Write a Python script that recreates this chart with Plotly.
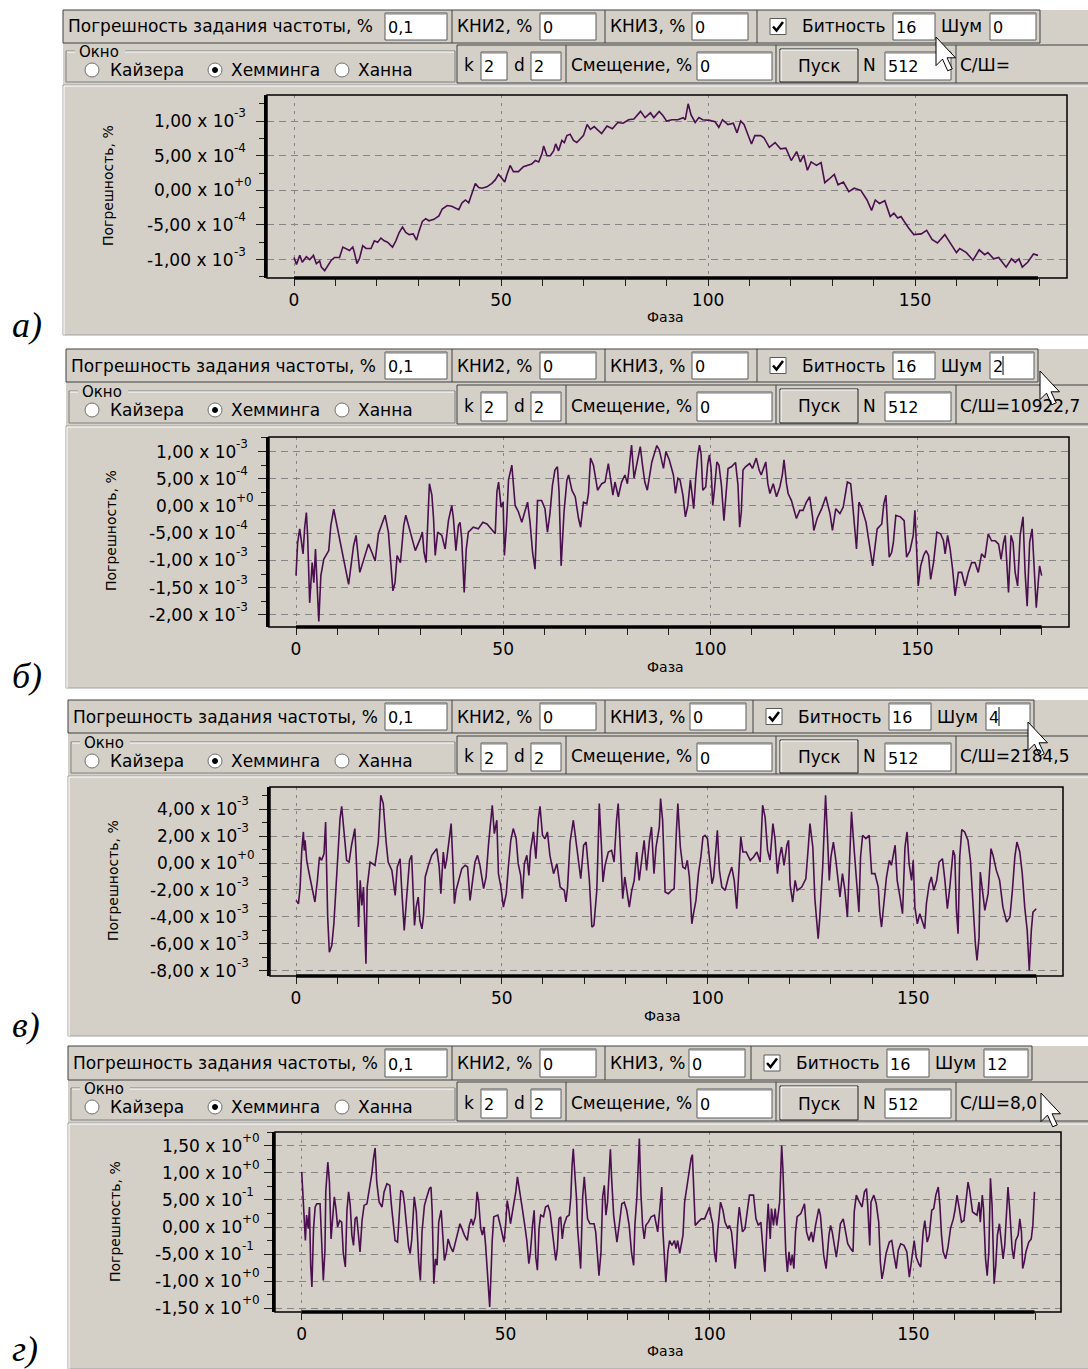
import plotly.graph_objects as go

# ---------------------------------------------------------------------------
# Frequency-setting error (%) versus phase (deg) for four noise levels
# (Шум = 0, 2, 4, 12).  Panels а-в are stored in units of 1e-3 %, panel г in %.
# ---------------------------------------------------------------------------
phase_a = [0, 0.6, 1.4, 2.0, 3.0, 3.8, 4.7, 5.4, 6.2, 6.6,
           7.4, 8.2, 9.0, 9.8, 11.0, 11.8, 12.6, 13.4, 14.2, 14.6,
           15.2, 15.8, 16.6, 17.4, 18.6, 19.4, 20.2, 21.0, 21.8, 22.6,
           23.8, 24.6, 25.4, 26.2, 27.0, 27.8, 28.8, 29.6, 30.2, 31.0,
           31.8, 32.6, 33.8, 35.0, 35.8, 37.0, 38.1, 39.0, 39.8, 40.6,
           41.4, 42.2, 43.0, 43.8, 44.6, 45.4, 46.6, 47.8, 48.6, 49.4,
           50.0, 50.9, 51.4, 52.2, 53.0, 54.2, 55.4, 56.2, 57.4, 58.3,
           59.1, 59.9, 60.3, 61.1, 61.9, 62.7, 63.2, 63.9, 64.7, 65.3,
           65.9, 66.7, 67.5, 68.3,
           69.9, 70.8, 71.6, 72.5, 74.3, 75.6, 76.9, 78.2, 79.5, 80.8,
           82.1, 83.7, 84.8, 86.1, 86.9, 88.2, 89.1, 90.0, 91.3, 92.7,
           94.0, 94.5, 95.2, 95.9, 96.9, 97.8, 98.7, 100.4, 101.7, 102.6,
           103.5, 104.8, 106.1, 107.0, 107.9, 108.7, 110.5, 111.3, 112.7, 113.5,
           114.8, 116.2, 117.5, 118.8, 120.1, 121.4, 122.3, 123.1, 124.0, 124.9,
           126.2, 127.3, 128.2, 129.2, 130.5, 131.4, 132.7, 134.0, 135.3, 136.9,
           138.4, 139.5, 140.4, 141.4, 142.7, 144.0, 144.9, 145.8, 146.6, 148.4,
           149.7, 151.5, 152.8, 154.1, 155.4, 157.2, 158.5, 160.0, 160.8, 162.4,
           164.0, 165.5, 166.8, 167.6, 169.0, 170.2, 172.0, 173.3, 174.2, 175.1,
           175.9, 177.2, 178.6, 179.7]
err_a = [-0.97, -1.07, -0.94, -1.04, -0.96, -1.00, -0.94, -1.06, -1.02, -1.11,
         -1.16, -1.09, -1.01, -0.97, -0.97, -0.82, -0.85, -0.87, -0.82, -0.90,
         -1.06, -0.99, -0.80, -0.84, -0.84, -0.73, -0.75, -0.69, -0.73, -0.75,
         -0.82, -0.73, -0.61, -0.53, -0.61, -0.64, -0.63, -0.72, -0.59, -0.45,
         -0.41, -0.44, -0.42, -0.37, -0.27, -0.22, -0.23, -0.26, -0.28, -0.18,
         -0.14, -0.18, -0.04, 0.10, 0.04, 0.03, 0.05, 0.10, 0.15, 0.23,
         0.19, 0.12, 0.22, 0.36, 0.27, 0.27, 0.34, 0.36, 0.38, 0.43,
         0.41, 0.53, 0.64, 0.50, 0.50, 0.57, 0.67, 0.57, 0.72, 0.69,
         0.79, 0.81, 0.72, 0.69,
         0.79, 0.95, 0.88, 0.92, 0.82, 0.93, 0.89, 0.98, 0.97, 1.02,
         1.03, 1.14, 1.05, 1.12, 1.05, 1.14, 1.08, 1.00, 1.02, 1.02,
         1.05, 1.02, 1.25, 1.09, 0.98, 1.05, 1.02, 1.01, 0.99, 0.91,
         1.02, 0.95, 0.97, 0.83, 1.00, 0.95, 0.67, 0.79, 0.79, 0.76,
         0.62, 0.69, 0.60, 0.61, 0.43, 0.56, 0.41, 0.51, 0.29, 0.41,
         0.36, 0.40, 0.11, 0.16, 0.23, 0.08, 0.12, -0.02, 0.03, 0.00,
         -0.14, -0.29, -0.14, -0.19, -0.15, -0.38, -0.33, -0.40, -0.38, -0.54,
         -0.64, -0.63, -0.58, -0.71, -0.76, -0.64, -0.77, -0.90, -0.84, -0.90,
         -1.01, -0.86, -0.93, -0.90, -0.99, -0.97, -1.11, -0.99, -1.04, -0.99,
         -1.11, -1.04, -0.92, -0.94]

phase_b = [0, 0.4, 0.9, 1.2, 1.7, 2.1, 2.5, 2.8, 3.3, 3.9,
           4.3, 4.7, 5.2, 5.5, 6.0, 6.7, 7.9, 8.4, 9.1, 9.9,
           11.1, 12.7, 13.9, 14.5, 15.4, 16.3, 17.5, 18.3, 19.1, 19.9,
           21.5, 22.3, 23.4, 23.9, 24.4, 25.2, 26.0, 26.5, 27.2, 28.8,
           30.0, 30.5, 30.9, 31.4, 32.2, 32.8, 33.2, 33.6, 34.2, 35.2,
           36.0, 36.8, 37.6, 38.0, 38.6, 39.2, 39.6, 40.0, 40.6, 41.1,
           41.6, 42.8, 44.0, 45.1, 46.1, 47.3, 48.1, 48.5, 48.9, 49.5,
           50.0, 50.3, 50.8, 51.3, 52.1, 52.9, 53.7, 54.5, 55.3, 55.9,
           56.5, 57.1, 57.7, 58.3, 59.3, 60.1, 60.7, 61.3, 61.9, 62.5,
           63.1, 63.5, 64.0, 64.7, 65.4, 65.8, 66.6, 67.4, 68.2, 68.7,
           69.4, 70.2, 70.6, 71.1, 71.8, 72.8, 73.8, 74.6, 75.4, 76.5,
           77.0, 77.8, 78.6, 79.4, 80.0, 80.5, 81.0, 81.6, 82.3, 83.1,
           83.7, 84.2, 84.8, 85.9, 87.1, 87.7, 88.7, 89.3, 90.1, 91.1,
           91.6, 92.2, 92.7, 93.4, 94.0, 94.6, 95.2, 95.6, 96.0, 96.5,
           97.0, 97.4, 97.8, 98.2, 98.9, 99.4, 99.8, 100.2, 100.6, 101.0,
           101.6, 102.1, 102.7, 103.3, 103.9, 104.3, 105.1, 106.1, 106.7, 107.1,
           107.5, 107.9, 108.5, 109.5, 110.2, 111.1, 111.8, 112.3, 113.4, 113.9,
           114.4, 115.2, 116.0, 116.8, 117.4, 117.8, 118.4, 118.8, 119.6, 120.8,
           121.6, 122.4, 123.2, 124.0, 124.7, 125.0, 125.8, 126.9, 127.9, 128.9,
           129.5, 130.3, 131.3, 132.1, 133.1, 133.9, 134.4, 134.9, 135.3, 135.9,
           136.5, 137.6, 138.5, 139.2, 139.8, 140.3, 141.4, 141.9, 142.4, 142.7,
           143.2, 143.8, 144.2, 144.8, 145.9, 146.8, 147.4, 148.2, 149.0, 149.4,
           149.8, 150.2, 150.8, 151.5, 152.1, 152.7, 153.2, 153.9, 154.7, 155.6,
           156.3, 156.7, 157.3, 157.9, 158.5, 159.1, 159.9, 160.7, 161.5, 162.3,
           163.1, 163.9, 164.7, 165.5, 166.3, 167.1, 167.9, 168.8, 169.6, 170.2,
           170.8, 171.2, 172.0, 172.6, 173.1, 173.6, 174.2, 174.8, 175.5, 176.0,
           176.5, 177.1, 177.7, 178.2, 178.7, 179.3, 179.5, 180.0]
err_b = [-1.28, -0.67, -0.42, -0.64, -0.88, -0.39, -0.12, -0.54, -1.78, -1.04,
         -1.41, -0.79, -1.78, -2.12, -1.28, -0.98, -0.82, -0.36, -0.06, -0.36,
         -0.85, -1.44, -0.73, -0.54, -1.22, -0.98, -0.70, -0.85, -1.01, -0.51,
         -0.17, -0.48, -1.56, -1.41, -0.91, -1.04, -0.36, -0.17, -0.36, -0.82,
         -0.60, -0.48, -0.85, -1.04, 0.41, 0.20, -0.23, -0.91, -0.48, -0.54,
         -0.79, -0.27, 0.01, -0.23, -0.82, -0.36, -0.30, -0.60, -1.59, -0.79,
         -0.48, -0.39, -0.42, -0.30, -0.33, -0.45, -0.51, 0.26, 0.44, -0.02,
         0.07, -0.91, -0.36, 0.48, 0.75, 0.01, -0.11, -0.30, -0.11, 0.07,
         -0.30, -0.85, -1.16, 0.10, 0.10, -0.05, -0.48, -0.14, 0.38, 0.66,
         0.72, 0.26, -1.10, -0.11, 0.48, 0.57, 0.29, 0.17, -0.23, -0.39,
         0.07, 0.04, 0.23, 0.88, 0.75, 0.29, 0.41, 0.44, 0.78, 0.20,
         0.44, 0.17, 0.44, 0.57, 0.41, 0.81, 1.12, 0.51, 0.81, 1.09,
         0.72, 0.44, 0.29, 0.81, 1.11, 1.03, 0.69, 1.00, 0.85, 0.57,
         0.23, 0.51, 0.48, 0.20, -0.20, 0.01, 0.48, 0.23, -0.05, 0.51,
         0.94, 1.12, 0.94, 0.29, 0.35, 0.78, 0.94, 0.69, 0.01, 0.29,
         0.81, 0.75, 0.38, -0.27, 0.41, 0.69, 0.72, 0.80, 0.38, -0.39,
         -0.11, 0.66, 0.72, 0.78, 0.69, 0.88, 0.66, 0.57, 0.81, 0.41,
         0.23, 0.41, 0.17, 0.35, 0.57, 0.85, 0.41, 0.23, 0.10, -0.23,
         -0.08, -0.08, 0.07, 0.17, -0.20, -0.45, -0.23, -0.05, 0.17, -0.14,
         -0.45, -0.05, -0.14, -0.02, 0.44, 0.41, 0.01, -0.51, -0.79, 0.07,
         -0.02, -0.30, -0.73, -1.10, -0.73, -0.42, -0.33, 0.04, 0.20, -0.23,
         -0.94, -0.85, -0.67, -0.17, -0.20, -0.27, -0.94, -0.82, -0.54, -0.08,
         -0.98, -1.47, -1.10, -0.91, -0.82, -0.91, -1.35, -1.04, -0.48, -0.51,
         -0.64, -0.88, -0.54, -0.79, -1.16, -1.65, -1.22, -1.22, -1.47, -1.22,
         -1.04, -1.04, -1.22, -0.88, -0.95, -0.51, -0.64, -0.64, -0.70, -0.98,
         -0.67, -0.54, -1.59, -0.54, -0.67, -1.22, -1.47, -0.54, -0.20, -1.22,
         -1.84, -0.67, -0.42, -1.28, -1.87, -1.28, -1.10, -1.28]

phase_c = [0, 0.6, 1.0, 1.4, 1.8, 2.0, 2.2, 2.6, 3.2, 4.1,
           4.6, 5.2, 5.7, 6.2, 6.8, 7.2, 7.7, 8.1, 8.7, 9.2,
           9.7, 10.3, 10.7, 11.1, 11.7, 12.3, 12.9, 13.5, 14.3, 14.7,
           15.2, 15.6, 16.0, 16.4, 16.8, 17.0, 17.3, 18.0, 19.2, 20.0,
           20.6, 21.2, 21.9, 22.4, 23.3, 24.1, 24.6, 25.3, 25.7, 26.1,
           26.3, 26.9, 27.6, 28.1, 28.5, 28.8, 29.2, 29.7, 30.1, 30.6,
           31.0, 31.4, 32.2, 33.0, 34.2, 34.8, 35.2, 35.8, 36.2, 36.6,
           37.3, 37.7, 38.1, 38.5, 38.9, 39.5, 40.3, 41.1, 41.7, 42.3,
           42.9, 43.5, 44.1, 44.7, 45.6, 46.2, 46.8, 47.4, 47.7, 48.2,
           48.8, 49.2, 49.8, 50.4, 51.1, 51.6, 52.2, 52.8, 53.5, 54.0,
           54.6, 55.0, 55.5, 56.1, 56.6, 57.0, 57.7, 58.3, 58.9, 59.3,
           59.9, 60.5, 61.1, 61.7, 62.6, 63.4, 64.2, 65.2, 65.6, 66.0,
           66.6, 67.4, 68.1, 68.7, 69.2, 69.9, 70.5, 71.3, 71.9, 72.4,
           73.1, 73.5, 73.7, 74.2, 74.6, 75.1, 75.9, 76.7, 77.3, 77.9,
           78.3, 78.9, 79.4, 79.9, 80.5, 81.0, 81.6, 82.2, 82.8, 83.4,
           84.0, 84.6, 85.2, 85.9, 86.4, 87.0, 87.5, 87.8, 88.3, 88.6,
           89.1, 89.7, 90.5, 91.3, 91.9,
           92.4, 92.8, 93.4, 94.0, 94.6, 95.1, 95.6, 96.2, 96.6, 97.2,
           97.8, 98.4, 98.9, 99.4, 100.0, 100.5, 101.1, 101.5, 101.9, 102.4,
           102.9, 103.5, 104.3, 105.1, 105.9, 106.5, 107.1, 107.5, 108.1, 108.6,
           109.4, 110.4, 111.2, 112.0, 112.8, 113.4, 114.0, 114.6, 115.2, 115.9,
           116.4, 117.0, 117.5, 118.0, 118.6, 119.3, 119.7, 120.1, 120.7, 121.3,
           121.8, 122.9, 123.9, 124.5, 124.9, 125.6, 126.1, 126.9, 127.3, 128.0,
           128.7, 129.2, 129.6, 130.0, 130.6, 131.2, 131.8, 132.2, 132.8, 133.4,
           134.0, 134.6, 135.0, 135.6, 136.2, 136.8, 137.2, 137.7, 138.5, 139.3,
           139.9, 140.7, 141.5, 141.9, 142.3, 142.9, 143.5, 144.2, 144.7, 145.6,
           146.1, 146.8, 147.4, 148.0, 148.5, 149.0, 149.6, 150.0, 150.4, 151.0,
           151.6, 152.0, 152.8, 153.2, 153.9, 154.4, 155.0, 155.7, 156.3, 157.1,
           157.7, 158.3, 158.9, 159.7, 160.1, 160.5, 160.9, 161.3, 161.8, 162.5,
           163.3, 163.9, 164.6, 165.1, 165.5, 166.0, 166.3, 166.8, 167.4, 168.2,
           168.9, 169.4, 170.2, 171.0, 171.8, 172.7, 173.5, 174.1, 174.7, 175.2,
           175.9, 176.5, 177.1, 177.7, 178.2, 178.7, 179.1, 179.9]
err_c = [-2.78, -3.03, -1.79, 0.94, 2.31, 0.94, 1.69, 0.20, -0.79, -2.28,
         -2.90, -1.29, 0.45, 0.20, 0.69, 3.05, -4.02, -6.63, -6.13, -4.52,
         -2.03, 1.69, 3.30, 4.22, 1.94, 0.20, 0.07, 1.32, 2.56, -0.05,
         -4.76, -1.29, -3.15, -1.79, -5.51, -7.49, -1.79, 0.07, -0.17, 1.56,
         5.04, 4.42, 1.56, 0.07, -0.55, -2.41, -0.30, 0.32, -2.03, -3.77,
         -5.01, -2.53, 0.20, 0.57, -3.28, -4.64, -3.28, -2.53, -4.27, -4.89,
         -3.90, -1.04, -0.17, 0.57, 1.07, -0.30, -2.28, 0.82, -0.42, 0.20,
         1.94, 2.93, 0.20, -3.03, -2.03, -1.29, -0.42, -0.17, -0.30, -2.78,
         -1.54, 0.07, 0.57, -0.17, -1.91, -1.04, 1.44, 3.55, 4.29, 2.18,
         3.18, -0.79, -1.79, -3.28, -2.28, -0.30, 1.69, 2.56, 1.81, -0.05,
         -0.92, -2.66, -0.05, 0.57, -0.92, 0.94, 2.31, 0.32, 3.30, 4.22,
         2.06, 1.81, 2.31, 0.57, -0.79, -0.05, -1.79, -2.03, -2.90, -1.79,
         1.56, 3.18, 1.44, -0.05, -1.17, 1.32, 1.56, -1.29, -4.76, -4.64,
         -2.03, 2.06, 4.42, 1.44, -1.41, -0.17, 0.82, 0.94, 0.07, 3.18,
         4.42, 0.57, -2.66, -1.04, -2.28, -3.28, -2.03, -1.29, 0.82, -1.29,
         0.20, 1.69, -0.55, 1.69, 2.68, -0.79, 1.19, 1.69, 2.68, 4.79,
         3.18, -2.16, -2.28, -2.03, -1.91,
         2.06, 4.42, 1.19, -0.30, -0.42, 0.20, -1.04, -4.52, -3.77, -2.78,
         -0.79, 0.45, 1.94, 2.06, 1.81, 0.20, -1.54, -1.04, 0.32, 2.43,
         -0.55, -1.79, -2.03, -1.04, -0.30, -1.29, -3.40, -1.54, 1.94, 0.82,
         0.82, 0.20, 0.45, 0.82, 0.07, 4.29, 3.42, 0.94, 0.20, 2.93,
         1.81, -0.79, 0.45, 1.19, -0.17, 1.32, 1.69, -1.66, -2.90, -1.29,
         -2.03, -1.79, -1.17, 1.19, 2.93, 1.19, -2.66, -5.63, -4.02, -0.30,
         5.04, 1.69, -1.29, 0.45, 1.56, 0.20, -1.54, -2.53, -0.79, -2.03,
         -4.02, -0.05, 3.80, 1.19, -1.04, -3.65, 0.45, 2.06, 1.81, 2.06,
         -0.79, -0.79, -1.79, -3.77, -4.76, -2.78, -1.04, 0.20, -0.17, 1.32,
         -1.29, -2.53, -3.77, 1.19, 2.31, -0.05, -1.29, 0.20, -3.28, -4.52,
         -3.77, -4.14, -4.89, -3.03, -1.54, -1.04, -2.03, -1.29, 0.07, 0.32,
         -1.29, -3.40, -1.79, 0.94, 0.57, -3.52, -5.26, 0.45, 2.48, 2.31,
         1.69, 0.20, -3.90, -6.00, -7.25, -5.51, -0.67, -1.79, -3.52, -2.28,
         1.07, 0.57, -0.55, -1.29, -3.28, -4.39, -4.02, -2.03, 0.45, 1.56,
         0.82, -0.79, -3.28, -5.01, -7.99, -5.01, -3.65, -3.40]

phase_d = [0, 0.2, 0.6, 0.9, 1.2, 1.6, 1.9, 2.2, 2.5, 2.9,
           3.3, 3.7, 4.5, 4.9, 5.3, 5.7, 5.9, 6.4, 6.8, 7.2,
           7.6, 8.0, 8.4, 8.8, 9.3, 9.8, 10.2, 10.7, 11.1, 11.5,
           11.9, 12.3, 12.7, 13.1, 13.5, 13.9, 14.3, 14.8, 15.3, 16.0,
           16.6, 17.2, 17.6, 18.0, 18.4, 19.0, 19.7, 20.2, 20.9, 21.6,
           22.0, 22.5, 22.9, 23.5, 24.0, 24.3, 24.8, 25.2, 25.7, 26.2,
           26.6, 27.0, 27.6, 28.1, 28.7, 29.1, 29.5, 30.1, 30.7, 31.3,
           31.7, 32.0, 32.4, 32.8, 33.2, 33.6, 34.2, 34.6, 35.0, 35.5,
           35.9, 36.5, 37.1, 37.7, 38.3, 38.8, 39.3, 39.9, 40.6, 41.1,
           41.6, 42.0, 42.6, 43.0, 43.4, 43.9, 44.3, 44.7, 45.1, 45.5,
           45.9, 46.1, 46.5, 46.7, 47.1, 48.1, 48.8, 49.2, 49.6, 50.0,
           50.4, 50.8, 51.2, 52.0, 52.5, 52.9, 53.4, 54.1, 54.7, 55.2,
           55.7, 56.1, 56.6, 57.0, 57.4, 57.8, 58.2, 58.6, 59.3, 59.8,
           60.4, 60.9, 61.2, 61.7, 62.3, 62.7, 63.1, 63.5, 63.9, 64.3,
           65.0, 65.6, 66.0, 66.3, 66.6, 67.0, 67.4, 67.6, 68.0, 68.4,
           68.9, 69.3, 69.7, 70.1, 70.7, 71.7, 72.1, 72.5, 72.9, 73.4,
           73.8, 74.2, 74.6, 75.0, 75.4, 75.7, 76.0, 76.5, 76.9, 77.3,
           77.9, 78.5, 79.1, 79.7, 80.3, 80.9, 81.4, 81.7, 82.2, 82.5,
           82.8, 83.2, 83.6, 84.0, 84.4, 85.0, 85.7, 86.5, 86.9, 87.3,
           88.0, 88.3, 88.5, 89.0, 89.3, 89.8, 90.2, 90.8, 91.4, 91.8,
           92.2,
           92.7, 93.1, 93.5, 93.9, 94.6, 95.1, 95.5, 95.8, 96.1, 96.5,
           97.2, 98.0, 98.8, 99.6, 100.0, 100.4, 100.8, 101.2, 101.6, 102.0,
           102.7, 103.3, 103.8, 104.5, 104.9, 105.4, 105.9, 106.3, 106.6, 106.9,
           107.3, 107.7, 108.1, 108.7, 109.2, 109.8, 110.8, 111.4, 112.0, 112.6,
           113.3, 113.6, 114.1, 114.4, 114.9, 115.2, 115.7, 116.1, 116.5, 116.8,
           117.2, 117.5, 117.7, 118.0, 118.3, 118.7, 119.1, 119.5, 119.9, 120.3,
           120.7, 121.1, 121.5, 122.4, 123.0, 123.3, 123.8, 124.4, 125.0, 125.4,
           126.0, 126.4, 126.8, 127.2, 127.6, 128.0, 128.6, 129.3, 129.7, 130.1,
           130.5, 131.1, 131.7, 132.1, 132.8, 133.3, 133.9, 134.6, 135.2, 135.5,
           136.0, 136.6, 137.4, 138.0, 138.5, 138.8, 139.3, 139.6, 140.3, 140.9,
           141.5, 141.9, 142.3, 142.7, 143.3, 144.1, 144.7, 145.1, 145.8, 146.3,
           146.9, 147.7, 148.4, 149.0, 149.6, 150.2, 150.7, 151.3, 151.8, 152.4,
           152.8, 153.4, 153.9, 154.5, 155.0, 155.5, 156.1, 156.5, 156.9, 157.3,
           157.9, 158.5, 159.1, 159.8, 160.2, 160.7, 161.2, 161.8, 162.4, 162.8,
           163.4, 163.8, 164.5, 165.0, 165.6, 166.1, 166.4, 166.9, 167.2, 167.7,
           168.1, 168.5, 168.9, 169.3, 169.8, 170.2, 170.6, 171.1, 171.5, 172.0,
           172.4, 172.8, 173.2, 173.6, 174.2, 174.6, 175.1, 175.7, 176.1, 176.5,
           176.8, 177.2, 177.6, 178.3, 178.9, 179.3, 179.7]
err_d = [1.02, 0.71, 0.09, -0.25, 0.22, -0.03, 0.37, -0.71, -1.11, -0.03,
         0.37, 0.43, 0.43, -0.46, -0.99, -0.43, 0.65, 1.20, 0.83, -0.22,
         0.15, 0.56, 0.34, 0.00, 0.12, 0.09, -0.49, -0.74, 0.31, 0.65,
         0.40, -0.15, -0.34, 0.15, 0.19, -0.09, -0.46, 0.12, 0.40, 0.43,
         0.71, 0.99, 1.27, 1.46, 0.83, 0.46, 0.37, 0.65, 0.80, 0.77,
         0.40, 0.03, -0.25, -0.28, 0.28, 0.68, 0.65, 0.43, 0.03, -0.37,
         -0.49, -0.22, 0.56, 0.28, -0.65, -0.99, -0.09, 0.40, 0.56, 0.71,
         0.74, 0.28, -1.05, -0.59, -0.71, 0.09, 0.31, -0.22, -0.62, -0.46,
         -0.22, -0.37, -0.46, -0.28, -0.12, 0.06, -0.03, -0.15, -0.25, 0.03,
         0.15, 0.03, 0.19, 0.65, 0.46, -0.03, -0.15, 0.00, -0.34, -0.74,
         -1.14, -1.48, -0.71, -0.28, 0.19, 0.22, 0.00, -0.15, -0.28, 0.03,
         0.49, 0.31, 0.06, 0.43, 0.65, 0.93, 0.71, 0.34, 0.03, -0.25,
         -0.68, -0.46, 0.03, 0.31, -0.56, -0.80, -0.03, 0.22, 0.19, 0.37,
         0.40, 0.28, 0.09, -0.28, -0.62, -0.40, 0.15, 0.19, -0.22, 0.03,
         0.19, 0.22, 0.56, 1.14, 1.45, 0.96, 0.52, 0.03, -0.37, -0.77,
         0.56, 0.93, 0.52, 0.15, 0.06, 0.06, -0.09, -0.49, -0.90, -0.46,
         0.56, 0.77, 0.22, 0.46, 1.08, 1.44, 0.90, 0.22, -0.03, -0.28,
         0.06, 0.43, 0.46, 0.31, 0.03, -0.49, -0.71, 0.03, 0.56, 1.27,
         1.64, 0.59, 0.03, -0.22, 0.03, 0.09, 0.19, 0.22, 0.03, -0.09,
         0.49, 0.74, 0.03, -0.59, -1.02, -0.46, -0.25, -0.34, -0.25, -0.40,
         -0.25,
         -0.49, -0.34, -0.15, 0.46, 0.86, 1.08, 1.27, 1.34, 0.65, 0.03,
         0.09, 0.15, 0.15, 0.31, 0.37, 0.19, 0.06, -0.46, -0.65, -0.09,
         0.46, 0.31, 0.09, -0.03, 0.03, -0.09, -0.52, -0.77, -0.46, 0.03,
         0.37, 0.15, -0.09, -0.03, 0.22, 0.59, 0.59, 0.15, 0.03, 0.09,
         -0.59, -0.83, 0.03, 0.43, -0.22, 0.34, 0.03, 0.34, 0.03, 0.28,
         0.46, 1.08, 1.51, 1.08, 0.31, -0.46, -0.83, -0.46, -0.71, -0.52,
         -0.77, -0.09, 0.19, 0.25, 0.37, 0.43, -0.09, -0.25, -0.09, -0.28,
         0.03, 0.22, 0.34, 0.22, -0.15, -0.52, -0.77, -0.15, 0.03, -0.09,
         -0.28, -0.56, -0.22, 0.06, 0.15, -0.09, -0.31, -0.40, -0.46, 0.28,
         0.59, 0.49, 0.37, 0.65, 0.71, 0.40, -0.34, 0.46, 0.59, 0.43,
         0.09, -0.65, -0.96, -0.80, -0.49, -0.28, -0.25, -0.46, -0.77, -0.43,
         -0.31, -0.34, -0.46, -0.93, -0.59, -0.25, -0.56, -0.68, -0.74, -0.09,
         0.12, -0.28, -0.15, 0.31, 0.34, 0.59, 0.74, 0.40, -0.15, -0.46,
         -0.59, -0.37, -0.03, 0.15, 0.31, 0.59, 0.37, 0.09, 0.12, 0.46,
         0.83, 0.68, 0.28, 0.25, 0.22, 0.46, 0.09, 0.59, 0.34, -0.59,
         -0.90, -0.46, 0.90, 0.40, -1.05, -0.71, -0.15, 0.06, -0.22, -0.59,
         -0.34, 0.28, 0.74, 0.34, -0.40, -0.59, -0.25, -0.15, 0.15, -0.09,
         -0.77, -0.65, -0.46, -0.28, -0.22, 0.03, 0.65]

for _x, _y in ((phase_a, err_a), (phase_b, err_b), (phase_c, err_c), (phase_d, err_d)):
    assert len(_x) == len(_y), (len(_x), len(_y))

# tick positions of the error axes, with mantissa and power-of-ten exponent
yt_a = [1e-3, 5e-4, 0, -5e-4, -1e-3]
ym_a = ["1,00", "5,00", "0,00", "-5,00", "-1,00"]
ye_a = ["-3", "-4", "+0", "-4", "-3"]
yt_b = [1e-3, 5e-4, 0, -5e-4, -1e-3, -1.5e-3, -2e-3]
ym_b = ["1,00", "5,00", "0,00", "-5,00", "-1,00", "-1,50", "-2,00"]
ye_b = ["-3", "-4", "+0", "-4", "-3", "-3", "-3"]
yt_c = [4e-3, 2e-3, 0, -2e-3, -4e-3, -6e-3, -8e-3]
ym_c = ["4,00", "2,00", "0,00", "-2,00", "-4,00", "-6,00", "-8,00"]
ye_c = ["-3", "-3", "+0", "-3", "-3", "-3", "-3"]
yt_d = [1.5, 1.0, 0.5, 0, -0.5, -1.0, -1.5]
ym_d = ["1,50", "1,00", "5,00", "0,00", "-5,00", "-1,00", "-1,50"]
ye_d = ["+0", "+0", "-1", "+0", "-1", "+0", "+0"]
xt = [0, 50, 100, 150]

# ---------------------------------------------------------------------------
W, H = 1088, 1369
UI = "DejaVu Sans"
GRAY = "#d4d0c8"
DARK = "#404040"
LINECOL = "#4b0f50"
FS = 17  # control-bar font size

def fx(x):
    return x / W

def fy(y):
    return 1 - y / H

shapes, annotations = [], []

def rect(x0, y0, x1, y1, fill=None, color=None, width=1, layer="below"):
    shapes.append(dict(type="rect", xref="paper", yref="paper",
                       x0=fx(x0), x1=fx(x1), y0=fy(y1), y1=fy(y0),
                       fillcolor=fill or "rgba(0,0,0,0)",
                       line=dict(color=color or "rgba(0,0,0,0)", width=width if color else 0),
                       layer=layer))

def seg(x0, y0, x1, y1, color=DARK, width=1, layer="below"):
    shapes.append(dict(type="line", xref="paper", yref="paper",
                       x0=fx(x0), x1=fx(x1), y0=fy(y0), y1=fy(y1),
                       line=dict(color=color, width=width), layer=layer))

def text(x, y, s, size=FS, anchor="left", family=UI, angle=0, color="black"):
    annotations.append(dict(xref="paper", yref="paper", x=fx(x), y=fy(y), text=s,
                            showarrow=False, xanchor=anchor, yanchor="middle",
                            textangle=angle, font=dict(family=family, size=size, color=color)))

def field(x0, x1, y0, y1, s, caret=False):
    rect(x0, y0, x1, y1, "white", "#5a5a5a", 1)
    seg(x0 + 1, y0 + 1, x1 - 1, y0 + 1, "#808080", 1)
    text(x0 + 1, (y0 + y1) / 2 + 1, s, 16)
    if caret:
        cx = x0 + 3 + 10 * len(s)
        seg(cx, y0 + 4, cx, y1 - 4, "black", 1)

def radio(cx, cy, on):
    shapes.append(dict(type="circle", xref="paper", yref="paper",
                       x0=fx(cx - 7), x1=fx(cx + 7), y0=fy(cy + 7), y1=fy(cy - 7),
                       fillcolor="white", line=dict(color="#707070", width=1), layer="below"))
    if on:
        shapes.append(dict(type="circle", xref="paper", yref="paper",
                           x0=fx(cx - 2.5), x1=fx(cx + 2.5), y0=fy(cy + 2.5), y1=fy(cy - 2.5),
                           fillcolor="black", line=dict(color="black", width=1), layer="below"))

def arrow_cursor(tx, ty, s=1.3):
    pts = [(0, 0), (0, 22), (5, 17), (9, 26), (12.5, 24.5), (8.5, 16), (15, 16)]
    path = "M " + " L ".join(f"{fx(tx + a * s)},{fy(ty + b * s)}" for a, b in pts) + " Z"
    shapes.append(dict(type="path", xref="paper", yref="paper", path=path,
                       fillcolor="white", line=dict(color="black", width=1), layer="above"))

panels = [
    dict(tag="а)", phase=phase_a, err=err_a, unit=1e-3, yt=yt_a, ym=ym_a, ye=ye_a, ydt=2.5e-4,
         frame=(267, 95, 1067, 278), xr=(-6.52, 186.7), yr=(-1.267e-3, 1.377e-3),
         r1=(10, 43), r2=(45, 83), ch=(85, 335), left=63, right1=1040, dx=0,
         noise="0", caret=False, snr="С/Ш=", cursor=(936, 37), tag_y=325,
         ytitle=(108, 186), xtitle=(665, 317)),
    dict(tag="б)", phase=phase_b, err=err_b, unit=1e-3, yt=yt_b, ym=ym_b, ye=ye_b, ydt=2.5e-4,
         frame=(269, 437, 1069, 627), xr=(-6.52, 186.6), yr=(-2.224e-3, 1.268e-3),
         r1=(349, 382), r2=(385, 424), ch=(426, 688), left=66, right1=1038, dx=0,
         noise="2", caret=True, snr="С/Ш=10922,7", cursor=(1040, 371), tag_y=676,
         ytitle=(111, 531), xtitle=(665, 667)),
    dict(tag="в)", phase=phase_c, err=err_c, unit=1e-3, yt=yt_c, ym=ym_c, ye=ye_c, ydt=1e-3,
         frame=(270, 787, 1063, 976), xr=(-6.32, 186.4), yr=(-8.40e-3, 5.65e-3),
         r1=(700, 733), r2=(736, 774), ch=(776, 1036), left=68, right1=1034, dx=-4,
         noise="4", caret=True, snr="С/Ш=2184,5", cursor=(1028, 722), tag_y=1025,
         ytitle=(113, 881), xtitle=(662, 1016)),
    dict(tag="г)", phase=phase_d, err=err_d, unit=1.0, yt=yt_d, ym=ym_d, ye=ye_d, ydt=0.25,
         frame=(275, 1132, 1061, 1312), xr=(-6.55, 186.2), yr=(-1.574, 1.759),
         r1=(1046, 1080), r2=(1082, 1121), ch=(1123, 1369), left=68, right1=1032, dx=-6,
         noise="12", caret=False, snr="С/Ш=8,0", cursor=(1041, 1093), tag_y=1349,
         ytitle=(115, 1222), xtitle=(665, 1351)),
]

fig = go.Figure()
layout = {}

for i, p in enumerate(panels, start=1):
    sx = "" if i == 1 else str(i)
    L = p["left"]
    t1, b1 = p["r1"]
    t2, b2 = p["r2"]
    ct, cb = p["ch"]
    dx = p["dx"]

    # window background
    rect(L, t1, W + 2, cb, GRAY)

    # --- first control row ---
    rect(L, t1, p["right1"], b1, GRAY, DARK, 1)
    ym = (t1 + b1) / 2
    fy0, fy1 = t1 + 3, b1 - 3
    text(L + 3, ym, "Погрешность задания частоты, %")
    field(385, 447, fy0, fy1, "0,1")
    seg(452, t1, 452, b1)
    text(455, ym, "КНИ2, %")
    field(540, 596, fy0, fy1, "0")
    seg(605, t1, 605, b1)
    text(608, ym, "КНИ3, %")
    field(692 + dx // 2, 748 + dx // 2, fy0, fy1, "0")
    seg(757 + dx, t1, 757 + dx, b1)
    cbx = 770 + dx
    rect(cbx, ym - 8, cbx + 16, ym + 8, "white", "#5a5a5a", 1)
    shapes.append(dict(type="path", xref="paper", yref="paper",
                       path=f"M {fx(cbx + 3)},{fy(ym)} L {fx(cbx + 6.5)},{fy(ym + 4)} L {fx(cbx + 13)},{fy(ym - 4.5)}",
                       line=dict(color="black", width=2.5), layer="below"))
    text(800 + dx, ym, "Битность")
    field(893 + dx, 935 + dx, fy0, fy1, "16")
    text(939 + dx, ym, "Шум")
    field(990 + dx, p["right1"] - 4, fy0, fy1, p["noise"], p["caret"])

    # --- second control row ---
    rect(L + 3, t2 + 6, 455, b2 - 1, None, "#808080", 1)
    seg(L + 4, t2 + 7, 454, t2 + 7, "white", 1)
    rect(L + 12, t2 + 1, L + 62, t2 + 12, GRAY)
    text(L + 14, t2 + 7, "Окно", 15)
    yr2 = t2 + 25
    radio(92, yr2, False)
    text(108, yr2, "Кайзера")
    radio(215, yr2, True)
    text(229, yr2, "Хемминга")
    radio(342, yr2, False)
    text(356, yr2, "Ханна")

    rect(457, t2, W + 5, b2, None, DARK, 1)
    ym2 = (t2 + b2) / 2 + 1
    gy0, gy1 = t2 + 7, b2 - 3
    text(462, ym2, "k")
    field(481, 507, gy0, gy1, "2")
    text(512, ym2, "d")
    field(531, 561, gy0, gy1, "2")
    seg(566, t2, 566, b2)
    text(569, ym2, "Смещение, %")
    field(697, 772, gy0, gy1, "0")
    seg(776, t2, 776, b2)
    rect(780, t2 + 4, 858, b2 - 1, GRAY, "#202020", 1)
    seg(781, t2 + 5, 857, t2 + 5, "white", 1)
    seg(781, t2 + 5, 781, b2 - 2, "white", 1)
    text(819, ym2 + 1, "Пуск", anchor="center")
    text(861, ym2, "N")
    field(885, 951, gy0, gy1, "512")
    seg(956, t2, 956, b2)
    text(958, ym2, p["snr"])

    # --- chart panel ---
    rect(L, ct, W + 2, cb, GRAY, "#a0a0a0", 1)
    seg(L + 1, ct + 1, W, ct + 1, "white", 1)
    seg(L + 1, ct + 1, L + 1, cb, "white", 1)

    text(p["ytitle"][0], p["ytitle"][1], "Погрешность, %", 14, anchor="center", angle=-90)
    text(p["xtitle"][0], p["xtitle"][1], "Фаза", 14, anchor="center")
    text(10, p["tag_y"], f"<i>{p['tag']}</i>", 36, family="Liberation Serif")
    arrow_cursor(*p["cursor"])

    # --- data ---
    x0, y0, x1, y1 = p["frame"]
    yvals = [v * p["unit"] for v in p["err"]]
    fig.add_trace(go.Scatter(x=p["phase"], y=yvals, mode="lines",
                             line=dict(color=LINECOL, width=1.6),
                             xaxis=f"x{sx}", yaxis=f"y{sx}", hoverinfo="skip",
                             showlegend=False))

    # error-axis labels: "m x 10" with a raised exponent, placed at each tick value
    for v, m, e in zip(p["yt"], p["ym"], p["ye"]):
        annotations.append(dict(xref="paper", yref=f"y{sx}", x=fx(x0 - 31), y=v,
                                text=f"{m} x 10", showarrow=False, xanchor="right",
                                yanchor="middle", font=dict(family=UI, size=17, color="black")))
        annotations.append(dict(xref="paper", yref=f"y{sx}", x=fx(x0 - 35), y=v, yshift=8,
                                text=e, showarrow=False, xanchor="left",
                                yanchor="middle", font=dict(family=UI, size=12, color="black")))

    layout[f"xaxis{sx}"] = dict(
        domain=[fx(x0), fx(x1)], range=list(p["xr"]), anchor=f"y{sx}",
        tickmode="array", tickvals=xt, ticktext=[str(v) for v in xt],
        ticks="outside", ticklen=7, tickwidth=1, tickcolor="#202020",
        showgrid=True, gridcolor="#858585", gridwidth=1, griddash="3px,5px",
        zeroline=False, showline=False, ticklabelstandoff=0,
        tickfont=dict(family=UI, size=17, color="black"),
        minor=dict(tickmode="linear", tick0=0, dtick=10, ticks="outside",
                   ticklen=7, tickwidth=1, tickcolor="#202020", showgrid=False),
        fixedrange=True)
    layout[f"yaxis{sx}"] = dict(
        domain=[fy(y1), fy(y0)], range=list(p["yr"]), anchor=f"x{sx}",
        tickmode="array", tickvals=p["yt"], showticklabels=False,
        ticks="outside", ticklen=8, tickwidth=1, tickcolor="#202020",
        showgrid=True, gridcolor="#858585", gridwidth=1, griddash="7px,5px",
        zeroline=False, showline=True, linewidth=3, linecolor="black",
        minor=dict(tickmode="linear", tick0=0, dtick=p["ydt"], ticks="outside",
                   ticklen=5, tickwidth=1, tickcolor="#202020", showgrid=False),
        fixedrange=True)

    # plot frame and the heavy baseline over the sampled phase span
    shapes.append(dict(type="rect", xref=f"x{sx} domain", yref=f"y{sx} domain",
                       x0=0, x1=1, y0=0, y1=1, line=dict(color="black", width=1.5),
                       fillcolor="rgba(0,0,0,0)", layer="above"))
    shapes.append(dict(type="line", xref=f"x{sx}", yref=f"y{sx} domain",
                       x0=min(p["phase"]), x1=max(p["phase"]), y0=0, y1=0,
                       line=dict(color="black", width=3.5), layer="above"))

fig.update_layout(
    width=W, height=H, margin=dict(l=0, r=0, t=0, b=0),
    paper_bgcolor="white", plot_bgcolor="rgba(0,0,0,0)",
    showlegend=False, shapes=shapes, annotations=annotations, **layout)

fig.write_html("out.html")
